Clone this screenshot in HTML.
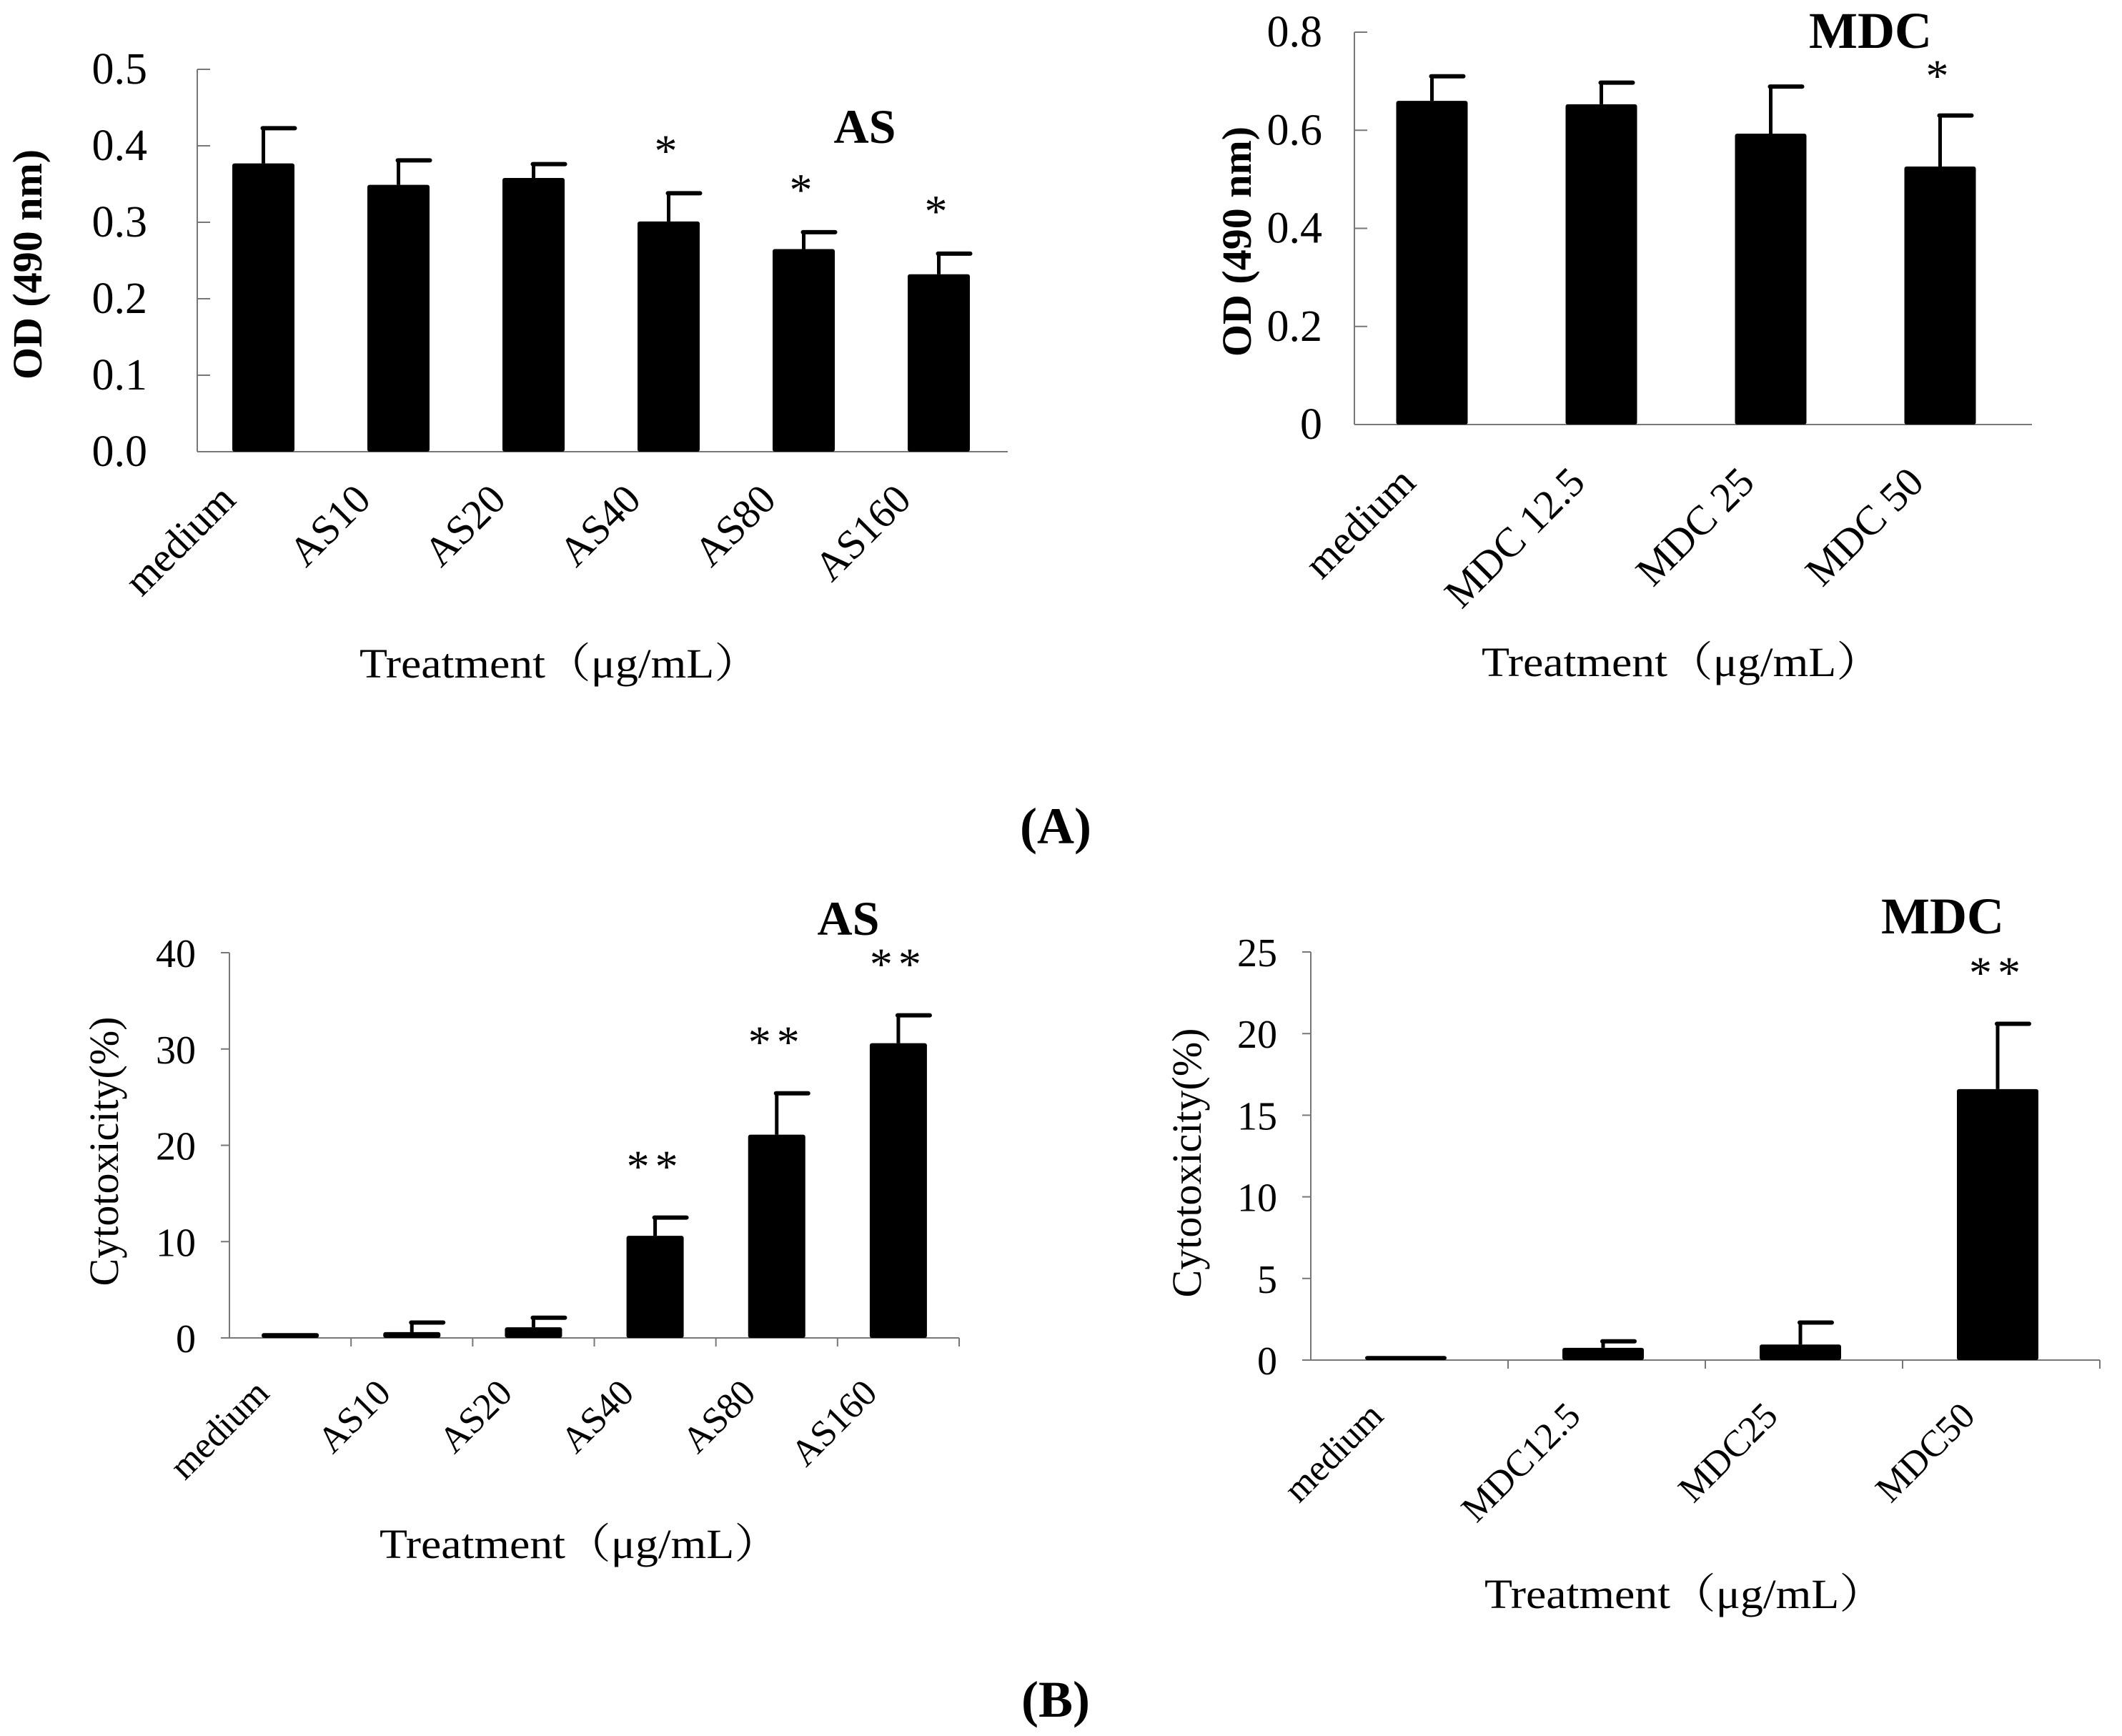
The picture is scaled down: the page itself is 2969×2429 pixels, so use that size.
<!DOCTYPE html>
<html><head><meta charset="utf-8"><style>
html,body{margin:0;padding:0;background:#fff}
svg{display:block}
text{font-family:"Liberation Serif","Noto Serif CJK SC",serif;fill:#000}
</style></head><body>
<svg id="fig" width="2969" height="2429" viewBox="0 0 2969 2429" xmlns="http://www.w3.org/2000/svg">
<text x="1477" y="1180" font-size="72" font-weight="bold" text-anchor="middle">(A)</text>
<text x="1477" y="2402" font-size="72" font-weight="bold" text-anchor="middle">(B)</text>
</svg>
<script>
// Panel A-left (AS, OD)
const aLeftCats = ["medium","AS10","AS20","AS40","AS80","AS160"];
const aLeftVals = [0.377,0.349,0.358,0.301,0.265,0.232];
const aLeftErr = [0.423,0.381,0.376,0.338,0.287,0.259];
const aLeftStars = ["","","","*","*","*"];
const aLeftTicks = ["0.0","0.1","0.2","0.3","0.4","0.5"];
// Panel A-right (MDC, OD)
const aRightCats = ["medium","MDC 12.5","MDC 25","MDC 50"];
const aRightVals = [0.660,0.653,0.593,0.526];
const aRightErr = [0.710,0.697,0.689,0.630];
const aRightStars = ["","","","*"];
const aRightTicks = ["0","0.2","0.4","0.6","0.8"];
// Panel B-left (AS, cytotoxicity)
const bLeftCats = ["medium","AS10","AS20","AS40","AS80","AS160"];
const bLeftVals = [0.5,0.6,1.1,10.6,21.1,30.6];
const bLeftErr = [null,1.6,2.1,12.5,25.4,33.5];
const bLeftStars = ["","","","**","**","**"];
const bLeftTicks = ["0","10","20","30","40"];
// Panel B-right (MDC, cytotoxicity)
const bRightCats = ["medium","MDC12.5","MDC25","MDC50"];
const bRightVals = [0.25,0.75,0.95,16.6];
const bRightErr = [null,1.15,2.3,20.6];
const bRightStars = ["","","","**"];
const bRightTicks = ["0","5","10","15","20","25"];

const svg = document.getElementById('fig');
const NS = 'http://www.w3.org/2000/svg';
function mk(tag, attrs, parent){
  const e = document.createElementNS(NS, tag);
  for (const k in attrs) e.setAttribute(k, attrs[k]);
  (parent||svg).appendChild(e);
  return e;
}

function panel(p){
  const g = mk('g', {});
  
  
  const ymin = parseFloat(p.ticks[0]), ymax = parseFloat(p.ticks[p.ticks.length-1]);
  const yS = v => p.y0 - (v - ymin) / (ymax - ymin) * (p.y0 - p.yTop);
  const n = p.cats.length;
  const step = (p.xEnd - p.x0) / n;
  const xS = i => p.x0 + step * (i + 0.5);
  const ya = mk('line', {x1:p.x0, y1:p.yTop, x2:p.x0, y2:p.y0, stroke:'#777', 'stroke-width':2}, g);
  
  
  const xa = mk('line', {x1:p.x0, y1:p.y0, x2:p.xEnd, y2:p.y0, stroke:'#777', 'stroke-width':2}, g);
  
  
  p.ticks.forEach(t => {
    const y = yS(parseFloat(t));
    mk('line', {x1:p.x0, y1:y, x2:p.x0 + (p.tickIn ? 18 : -12), y2:y, stroke:'#777', 'stroke-width':2}, g);
    const tl = mk('text', {x:p.x0 - 70 + p.lblOff, y:y + 20, 'font-size':p.tickFs, 'text-anchor':'end'}, g);
    
    
    tl.textContent = t;
  });
  if (p.xTicks) {
    for (let i = 1; i <= n; i++) {
      const x = p.x0 + step * i;
      mk('line', {x1:x, y1:p.y0, x2:x, y2:p.y0 + 12, stroke:'#777', 'stroke-width':2}, g);
    }
  }
  p.cats.forEach((c, i) => {
    const cx = xS(i) + p.barShift;
    const top = yS(p.vals[i]);
    const r = mk('rect', {x:cx - p.bw/2, y:top, width:p.bw, height:p.y0 - top, fill:'#000', rx:3}, g);
    
    
    let starY = top - 40;
    if (p.err[i] != null) {
      const ey = yS(p.err[i]);
      mk('line', {x1:cx, y1:top, x2:cx, y2:ey, stroke:'#000', 'stroke-width':5}, g);
      const cap = mk('line', {x1:cx - 1, y1:ey, x2:cx + 44, y2:ey, stroke:'#000', 'stroke-width':6, 'stroke-linecap':'round'}, g);
      
      
      starY = ey - p.starGap;
    }
    if (p.stars[i]) {
      const s = mk('text', {x:cx, y:starY, 'font-size':64, 'text-anchor':'middle', 'letter-spacing':8}, g);
      
      
      s.textContent = p.stars[i];
    }
    const lx = cx + p.lblDx, ly = p.lblY;
    const xl = mk('text', {x:lx, y:ly, 'font-size':p.catFs, 'text-anchor':'end', transform:'rotate(-45 ' + lx + ' ' + ly + ')'}, g);
    
    
    xl.textContent = c;
  });
  const yt = mk('text', {x:p.ytX, y:p.ytY, 'font-size':p.ytFs, 'font-weight':p.ytBold ? 'bold' : 'normal', 'text-anchor':'middle', transform:'rotate(-90 ' + p.ytX + ' ' + p.ytY + ')'}, g);
  
  
  yt.textContent = p.ytitle;
  const xt = mk('text', {x:p.xtX, y:p.xtY, 'font-size':58, 'text-anchor':'middle', textLength:560, lengthAdjust:'spacingAndGlyphs'}, g);
  
  
  xt.textContent = 'Treatment（μg/mL）';
  const tt = mk('text', {x:p.tX, y:p.tY, 'font-size':p.tFs, 'font-weight':'bold', 'text-anchor':'middle'}, g);
  
  
  tt.textContent = p.title;
}

panel({name:'chart-as-od', cats:aLeftCats, vals:aLeftVals, err:aLeftErr, stars:aLeftStars, ticks:aLeftTicks,
  x0:276, xEnd:1410, yTop:97, y0:632, bw:87, barShift:-2, tickIn:true, xTicks:false, lblOff:0, tickFs:62, catFs:58,
  lblDx:-36, lblY:702, starGap:38, ytitle:'OD (490 nm)', ytFs:58, ytBold:true, ytX:58, ytY:370,
  xtX:783, xtY:948, title:'AS', tFs:68, tX:1210, tY:200});
panel({name:'chart-mdc-od', cats:aRightCats, vals:aRightVals, err:aRightErr, stars:aRightStars, ticks:aRightTicks,
  x0:1895, xEnd:2843, yTop:45, y0:594, bw:100, barShift:-10, tickIn:true, xTicks:false, lblOff:25, tickFs:62, catFs:58,
  lblDx:-20, lblY:678, starGap:34, ytitle:'OD (490 nm)', ytFs:58, ytBold:true, ytX:1750, ytY:338,
  xtX:2353, xtY:946, title:'MDC', tFs:72, tX:2617, tY:67});
panel({name:'chart-as-cytotoxicity', cats:bLeftCats, vals:bLeftVals, err:bLeftErr, stars:bLeftStars, ticks:bLeftTicks,
  x0:321, xEnd:1342, yTop:1333, y0:1872, bw:80, barShift:0, tickIn:false, xTicks:true, lblOff:23, tickFs:56, catFs:52,
  lblDx:-27, lblY:1952, starGap:50, ytitle:'Cytotoxicity(%)', ytFs:58, ytBold:false, ytX:165, ytY:1611,
  xtX:811, xtY:2180, title:'AS', tFs:68, tX:1187, tY:1308});
panel({name:'chart-mdc-cytotoxicity', cats:bRightCats, vals:bRightVals, err:bRightErr, stars:bRightStars, ticks:bRightTicks,
  x0:1834, xEnd:2938, yTop:1332, y0:1903, bw:114, barShift:-5, tickIn:false, xTicks:true, lblOff:23, tickFs:56, catFs:52,
  lblDx:-29, lblY:1984, starGap:50, ytitle:'Cytotoxicity(%)', ytFs:58, ytBold:false, ytX:1680, ytY:1627,
  xtX:2357, xtY:2250, title:'MDC', tFs:72, tX:2718, tY:1306});
</script>
</body></html>
